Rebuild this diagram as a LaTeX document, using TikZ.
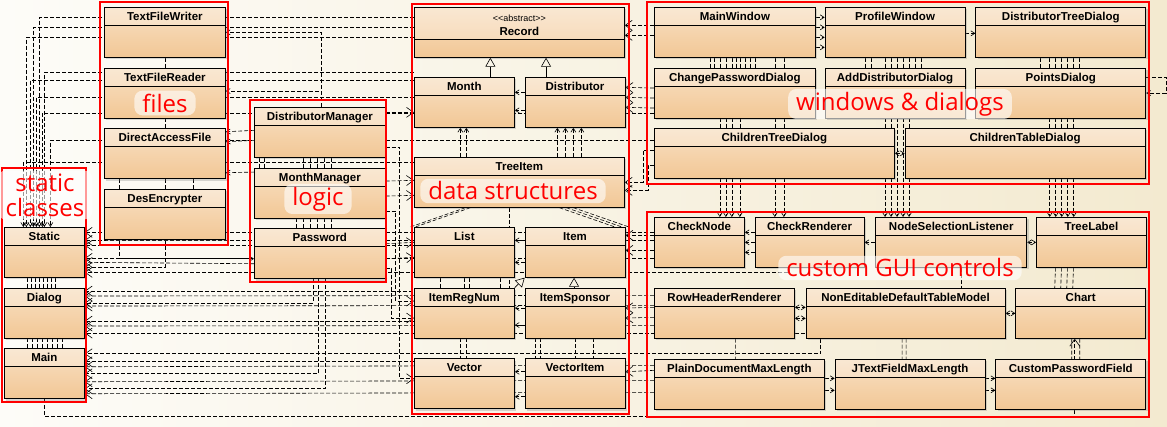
\documentclass[tikz,border=0pt]{standalone}
\usepackage{fontspec}
\setmainfont{Liberation Sans}
\newfontfamily\grpfont{Open Sans}
\usetikzlibrary{arrows.meta, positioning, shadows}
\definecolor{boxtop}{HTML}{F8E0C4}
\definecolor{boxbot}{HTML}{F2C795}
\definecolor{bgleft}{HTML}{FDFCF8}
\definecolor{bgright}{HTML}{F3EAD0}
\definecolor{grpred}{HTML}{FF0000}
\pgfdeclarelayer{back}
\pgfdeclarelayer{wires}
\pgfsetlayers{back,wires,main}
\tikzset{
  cls/.style={
    rectangle, draw=black, line width=0.7pt, top color=boxtop, bottom color=boxbot,
    minimum width=#1, minimum height=50pt, inner ysep=2pt, text height=11pt, text depth=35pt,
    font=\fontsize{11.5}{13}\selectfont\bfseries,
    path picture={
      \fill[white, opacity=0.25] (path picture bounding box.north west) rectangle ([yshift=-18pt]path picture bounding box.north east);
      \draw[line width=0.7pt] ([yshift=-18pt]path picture bounding box.north west) -- ([yshift=-18pt]path picture bounding box.north east);},
    drop shadow={shadow xshift=2pt, shadow yshift=-2pt, opacity=0.3}
  },
  grp/.style={draw=grpred, line width=2.6pt},
  lbl/.style={
    text=grpred, font=\grpfont\fontsize{24}{25}\selectfont, align=center,
    fill=white, fill opacity=0.6, text opacity=1, rounded corners=8pt, inner xsep=8pt, inner ysep=3pt
  },
  dep/.style={line width=0.6pt, dash pattern=on 4pt off 2pt, -{Straight Barb[length=7pt,width=10pt]}},
  deps/.style={line width=0.6pt, dash pattern=on 4pt off 2pt, -{Straight Barb[length=4pt,width=5pt]}},
  depb/.style={line width=0.6pt, dash pattern=on 4pt off 2pt, {Straight Barb[length=4pt,width=5pt]}-{Straight Barb[length=4pt,width=5pt]}},
  inh/.style={line width=0.6pt, -{Triangle[open,length=9pt,width=10pt]}},
  lnk/.style={line width=0.6pt, dash pattern=on 4pt off 2pt}
}
\begin{document}
\begin{tikzpicture}[x=1pt, y=-1pt, node distance=10pt]
\useasboundingbox (0,0) rectangle (1167,427);
\begin{pgfonlayer}{back}
  \shade[left color=bgleft, right color=bgright] (0,0) rectangle (1167,427);
\end{pgfonlayer}

% static classes
\node[cls=80pt, anchor=north west] (Static) at (4,227) {Static};
\node[cls=80pt, below=of Static] (Dialog) {Dialog};
\node[cls=80pt, below=of Dialog] (Main) {Main};

% files
\node[cls=121pt, anchor=north west] (TextFileWriter) at (104,7) {TextFileWriter};
\node[cls=121pt, below=of TextFileWriter] (TextFileReader) {TextFileReader};
\node[cls=121pt, below=of TextFileReader] (DirectAccessFile) {DirectAccessFile};
\node[cls=121pt, below=of DirectAccessFile] (DesEncrypter) {DesEncrypter};

% logic
\node[cls=131pt, anchor=north west] (DistributorManager) at (254,107) {DistributorManager};
\node[cls=131pt, below=of DistributorManager] (MonthManager) {MonthManager};
\node[cls=131pt, below=of MonthManager] (Password) {Password};

% data structures
\node[cls=210pt, anchor=north west, text height=26pt, text depth=20pt,
  path picture={
    \fill[white, opacity=0.25] (path picture bounding box.north west) rectangle ([yshift=-32pt]path picture bounding box.north east);
    \draw[line width=0.7pt] ([yshift=-32pt]path picture bounding box.north west) -- ([yshift=-32pt]path picture bounding box.north east);},
  label={[font=\fontsize{9}{10}\selectfont, anchor=north, yshift=-4pt]north:{<}{<}abstract{>}{>}}] (Record) at (414,7) {Record};
\node[cls=100pt, anchor=north west] (Month) at (414,77) {Month};
\node[cls=100pt, right=of Month] (Distributor) {Distributor};
\node[cls=210pt, anchor=north west] (TreeItem) at (414,157) {TreeItem};
\node[cls=100pt, anchor=north west] (List) at (414,227) {List};
\node[cls=100pt, right=of List] (Item) {Item};
\node[cls=100pt, below=of List] (ItemRegNum) {ItemRegNum};
\node[cls=100pt, below=of Item] (ItemSponsor) {ItemSponsor};
\node[cls=100pt, below=20pt of ItemRegNum] (Vector) {Vector};
\node[cls=100pt, below=20pt of ItemSponsor] (VectorItem) {VectorItem};

% windows & dialogs
\node[cls=161pt, anchor=north west] (MainWindow) at (654,7) {MainWindow};
\node[cls=140pt, right=9pt of MainWindow] (ProfileWindow) {ProfileWindow};
\node[cls=170pt, right=of ProfileWindow] (DistributorTreeDialog) {DistributorTreeDialog};
\node[cls=161pt, below=of MainWindow] (ChangePasswordDialog) {ChangePasswordDialog};
\node[cls=140pt, below=of ProfileWindow] (AddDistributorDialog) {AddDistributorDialog};
\node[cls=170pt, below=of DistributorTreeDialog] (PointsDialog) {PointsDialog};
\node[cls=240pt, anchor=north west] (ChildrenTreeDialog) at (654,128) {ChildrenTreeDialog};
\node[cls=240pt, right=of ChildrenTreeDialog] (ChildrenTableDialog) {ChildrenTableDialog};

% custom GUI controls
\node[cls=90pt, anchor=north west] (CheckNode) at (654,217) {CheckNode};
\node[cls=109pt, right=of CheckNode] (CheckRenderer) {CheckRenderer};
\node[cls=151pt, right=11pt of CheckRenderer] (NodeSelectionListener) {NodeSelectionListener};
\node[cls=110pt, right=9pt of NodeSelectionListener] (TreeLabel) {TreeLabel};
\node[cls=140pt, anchor=north west] (RowHeaderRenderer) at (654,288) {RowHeaderRenderer};
\node[cls=199pt, right=11pt of RowHeaderRenderer] (NonEditableDefaultTableModel) {NonEditableDefaultTableModel};
\node[cls=130pt, right=of NonEditableDefaultTableModel] (Chart) {Chart};
\node[cls=170pt, anchor=north west] (PlainDocumentMaxLength) at (654,359) {PlainDocumentMaxLength};
\node[cls=150pt, right=of PlainDocumentMaxLength] (JTextFieldMaxLength) {JTextFieldMaxLength};
\node[cls=150pt, right=of JTextFieldMaxLength] (CustomPasswordField) {CustomPasswordField};

\begin{pgfonlayer}{wires}
% into the static classes, from above
\draw[deps] ([yshift=15pt]Record.west) -| ([xshift=-5pt]Static.north);
\draw[deps] ([yshift=5pt]Record.west) -| ([xshift=-11pt]Static.north);
\draw[deps] ([yshift=-5pt]Record.west) -| ([xshift=-18pt]Static.north);
\draw[deps] ([yshift=30pt]Month.west) -| (Static.north);
\draw[deps] ([yshift=22pt]Month.west) -| ([xshift=-14pt]Static.north);
\draw[deps] ([yshift=5pt]Month.west) -| ([xshift=-8pt]Static.north);
\draw[deps] ([yshift=-20pt]ChangePasswordDialog.west) -| ([xshift=-2pt]Static.north);
\draw[deps] ([yshift=13pt]ChildrenTreeDialog.west) -| ([xshift=6pt]Static.north);
\draw[deps] ([yshift=20pt]TreeItem.west) -| ([xshift=-21pt]Static.north);
\draw[lnk] ([xshift=-17pt]Static.south) -- ([xshift=-17pt]Dialog.north) ([xshift=-13pt]Static.south) -- ([xshift=-13pt]Dialog.north)
  ([xshift=-9pt]Static.south) -- ([xshift=-9pt]Dialog.north) ([xshift=-5pt]Static.south) -- ([xshift=-5pt]Dialog.north)
  ([xshift=-1pt]Static.south) -- ([xshift=-1pt]Dialog.north) ([xshift=3pt]Static.south) -- ([xshift=3pt]Dialog.north)
  ([xshift=7pt]Static.south) -- ([xshift=7pt]Dialog.north) ([xshift=11pt]Static.south) -- ([xshift=11pt]Dialog.north);
\draw[lnk] ([xshift=-17pt]Dialog.south) -- ([xshift=-17pt]Main.north) ([xshift=-12pt]Dialog.south) -- ([xshift=-12pt]Main.north)
  ([xshift=-7pt]Dialog.south) -- ([xshift=-7pt]Main.north) ([xshift=-2pt]Dialog.south) -- ([xshift=-2pt]Main.north)
  ([xshift=3pt]Dialog.south) -- ([xshift=3pt]Main.north) ([xshift=8pt]Dialog.south) -- ([xshift=8pt]Main.north)
  ([xshift=13pt]Dialog.south) -- ([xshift=13pt]Main.north) ([xshift=18pt]Dialog.south) -- ([xshift=18pt]Main.north);

% into the static classes, from the right
\draw[dep] ([yshift=10pt]CheckNode.west) -- ([yshift=20pt]Static.east);
\draw[dep] ([yshift=2pt]CheckNode.west) -- ([yshift=12pt]Static.east);
\draw[dep] ([yshift=7pt]List.west) -- ([yshift=7pt]Static.east);
\draw[dep] ([yshift=-16pt]CheckNode.west) -- ([yshift=-6pt]Static.east);
\draw[dep] ([yshift=-10pt]Password.west) -- ([yshift=-10pt]Static.east);
\draw[dep] (DesEncrypter.south) |- ([yshift=-15pt]Static.east);
\draw[dep] ([xshift=-20pt]CheckRenderer.south) |- ([yshift=-20pt]Static.east);
\draw[dep] ([xshift=-10pt]TreeItem.south) |- ([yshift=22pt]Dialog.east);
\draw[dep] ([yshift=18pt]RowHeaderRenderer.west) -- ([yshift=17pt]Dialog.east);
\draw[dep] ([xshift=-7pt]Password.south) |- ([yshift=10pt]Dialog.east);
\draw[dep] ([yshift=8pt]RowHeaderRenderer.west) -- ([yshift=7pt]Dialog.east);
\draw[dep] ([yshift=-8pt]ItemRegNum.west) -- ([yshift=-8pt]Dialog.east);
\draw[dep] ([yshift=-12pt]RowHeaderRenderer.west) -- ([yshift=-13pt]Dialog.east);
\draw[dep] ([xshift=10pt]NodeSelectionListener.south) |- ([yshift=-20pt]Dialog.east);
\draw[dep] ([xshift=-85pt]NonEditableDefaultTableModel.south) |- ([yshift=20pt]Main.east);
\draw[dep] ([yshift=22pt]Vector.west) -- ([yshift=12pt]Main.east);
\draw[dep] ([yshift=19pt]PlainDocumentMaxLength.west) -- ([yshift=7pt]Main.east);
\draw[dep] ([xshift=-2pt]Password.south) |- (Main.east);
\draw[dep] ([yshift=4pt]PlainDocumentMaxLength.west) -- ([yshift=-8pt]Main.east);
\draw[dep] ([xshift=5pt]Password.south) |- ([yshift=-15pt]Main.east);
\draw[dep] ([yshift=-8pt]PlainDocumentMaxLength.west) -- ([yshift=-20pt]Main.east);
\draw[dep] (Main.south) -- ++(0,17) -| ([xshift=-6pt]Chart.south);

% files and logic
\draw[lnk] (TextFileWriter.south) -- (TextFileReader.north) (TextFileReader.south) -- (DirectAccessFile.north)
  ([xshift=-46pt]DirectAccessFile.south) -- ([xshift=-46pt]DesEncrypter.north) (DirectAccessFile.south) -- (DesEncrypter.north)
  ([xshift=28pt]DirectAccessFile.south) -- ([xshift=28pt]DesEncrypter.north);
\draw[deps] ([xshift=1pt]DistributorManager.north) |- (TextFileWriter.east);
\draw[deps] ([xshift=1pt]DistributorManager.north) |- ([yshift=2pt]TextFileReader.east);
\draw[deps] ([yshift=2pt]DistributorManager.west) -- ([yshift=22pt]DirectAccessFile.east);
\draw[deps] ([yshift=-8pt]DistributorManager.west) -- ([yshift=12pt]DirectAccessFile.east);
\draw[deps] ([yshift=21pt]MonthManager.west) -- ([yshift=-19pt]DirectAccessFile.east);
\draw[deps] ([xshift=-46pt]DesEncrypter.south) |- ([yshift=-5pt]Password.west);
\draw[lnk] ([xshift=-61pt]DistributorManager.south) -- ([xshift=-61pt]MonthManager.north) ([xshift=-56pt]DistributorManager.south) -- ([xshift=-56pt]MonthManager.north)
  ([xshift=-17pt]DistributorManager.south) -- ([xshift=-17pt]MonthManager.north) ([xshift=-10pt]DistributorManager.south) -- ([xshift=-10pt]MonthManager.north)
  ([xshift=-3pt]DistributorManager.south) -- ([xshift=-3pt]MonthManager.north) ([xshift=4pt]DistributorManager.south) -- ([xshift=4pt]MonthManager.north)
  ([xshift=11pt]DistributorManager.south) -- ([xshift=11pt]MonthManager.north);
\draw[lnk] ([xshift=-24pt]MonthManager.south) -- ([xshift=-24pt]Password.north) ([xshift=-17pt]MonthManager.south) -- ([xshift=-17pt]Password.north)
  ([xshift=-10pt]MonthManager.south) -- ([xshift=-10pt]Password.north) ([xshift=-3pt]MonthManager.south) -- ([xshift=-3pt]Password.north)
  ([xshift=4pt]MonthManager.south) -- ([xshift=4pt]Password.north) ([xshift=11pt]MonthManager.south) -- ([xshift=11pt]Password.north);

% logic to data structures
\draw[dep] ([yshift=20pt]DistributorManager.east) -- ([yshift=-10pt]Month.west);
\draw[dep] ([yshift=12pt]MonthManager.east) -- ([yshift=2pt]TreeItem.west);
\draw[dep] ([yshift=-3pt]MonthManager.east) -- ([yshift=-13pt]TreeItem.west);
\draw[dep] ([yshift=10pt]Password.east) -- ([yshift=10pt]List.west);
\draw[dep] ([yshift=-5pt]Password.east) -- ([yshift=-5pt]List.west);
\draw[dep] ([yshift=-18pt]MonthManager.east) -- ++(10,0) |- ([yshift=12pt]ItemRegNum.west);
\draw[dep] ([yshift=-15pt]Password.east) -- ++(6,0) |- ([yshift=-5pt]ItemRegNum.west);
\draw[dep] ([yshift=-15pt]DistributorManager.east) -- ++(14,0) |- ([yshift=5pt]Vector.west);

% data structures
\draw[inh] ([xshift=26pt]Month.north) -- ([xshift=26pt]Month.north |- Record.south);
\draw[inh] ([xshift=-29pt]Distributor.north) -- ([xshift=-29pt]Distributor.north |- Record.south);
\draw[deps] ([yshift=10pt]Distributor.west) -- ([yshift=10pt]Month.east);
\draw[deps] ([yshift=-8pt]Distributor.west) -- ([yshift=-8pt]Month.east);
\draw[deps] ([xshift=-59pt]TreeItem.north) -- ([xshift=-59pt]TreeItem.north |- Month.south);
\draw[deps] ([xshift=-53pt]TreeItem.north) -- ([xshift=-53pt]TreeItem.north |- Month.south);
\draw[deps] ([xshift=38pt]TreeItem.north) -- ([xshift=38pt]TreeItem.north |- Distributor.south);
\draw[deps] ([xshift=46pt]TreeItem.north) -- ([xshift=46pt]TreeItem.north |- Distributor.south);
\draw[deps] ([xshift=54pt]TreeItem.north) -- ([xshift=54pt]TreeItem.north |- Distributor.south);
\draw[deps] ([xshift=62pt]TreeItem.north) -- ([xshift=62pt]TreeItem.north |- Distributor.south);
\draw[lnk] ([xshift=-54pt]TreeItem.south) -- ([xshift=-54pt]List.north) ([xshift=-49pt]TreeItem.south) -- ([xshift=-49pt]List.north)
  ([xshift=40pt]TreeItem.south) -- ([xshift=40pt]Item.north) ([xshift=47pt]TreeItem.south) -- ([xshift=47pt]Item.north)
  ([xshift=54pt]TreeItem.south) -- ([xshift=54pt]Item.north);
\draw[deps] ([yshift=12pt]Item.west) -- ([yshift=12pt]List.east);
\draw[deps] ([yshift=-10pt]Item.west) -- ([yshift=-10pt]List.east);
\draw[inh] ([xshift=-1pt]ItemSponsor.north) -- ([xshift=-1pt]Item.south);
\draw[inh] (ItemRegNum.north east) -- (Item.south west);
\draw[deps] ([yshift=5pt]ItemSponsor.west) -- ([yshift=5pt]ItemRegNum.east);
\draw[deps] ([yshift=-12pt]ItemSponsor.west) -- ([yshift=-12pt]ItemRegNum.east);
\draw[lnk] ([xshift=-24pt]List.south) -- ([xshift=-24pt]ItemRegNum.north) (List.south) -- (ItemRegNum.north)
  ([xshift=5pt]List.south) -- ([xshift=5pt]ItemRegNum.north) ([xshift=36pt]List.south) -- ([xshift=36pt]ItemRegNum.north)
  ([xshift=-4pt]ItemRegNum.south) -- ([xshift=-4pt]Vector.north) ([xshift=2pt]ItemRegNum.south) -- ([xshift=2pt]Vector.north)
  ([xshift=-40pt]ItemSponsor.south) -- ([xshift=-40pt]VectorItem.north) ([xshift=-35pt]ItemSponsor.south) -- ([xshift=-35pt]VectorItem.north)
  (ItemSponsor.south) -- (VectorItem.north) ([xshift=18pt]ItemSponsor.south) -- ([xshift=18pt]VectorItem.north);
\draw[deps] ([yshift=12pt]VectorItem.west) -- ([yshift=12pt]Vector.east);
\draw[deps] ([yshift=-13pt]VectorItem.west) -- ([yshift=-13pt]Vector.east);

% windows & dialogs to data structures
\draw[dep] ([yshift=7pt]MainWindow.west) -- ([yshift=7pt]Record.east);
\draw[dep] ([yshift=-3pt]MainWindow.west) -- ([yshift=-3pt]Record.east);
\draw[dep] ([yshift=5pt]ChangePasswordDialog.west) -- ([yshift=15pt]Distributor.east);
\draw[dep] ([yshift=-5pt]ChangePasswordDialog.west) -- ([yshift=5pt]Distributor.east);
\draw[dep] ([yshift=-15pt]ChangePasswordDialog.west) -- ([yshift=-5pt]Distributor.east);
\draw[dep] ([yshift=3pt]ChildrenTreeDialog.west) -- ++(-11,0) |- (TreeItem.east);
\draw[dep] ([yshift=-12pt]ChildrenTreeDialog.west) -- ++(-6,0) |- ([yshift=-8pt]TreeItem.east);
\draw[dep] ([yshift=7pt]CheckNode.west) -- ([yshift=17pt]Item.east);
\draw[dep] ([yshift=-8pt]CheckNode.west) -- ([yshift=2pt]Item.east);
\draw[dep] ([yshift=6pt]RowHeaderRenderer.west) -- ([yshift=5pt]ItemSponsor.east);
\draw[dep] ([yshift=-4pt]RowHeaderRenderer.west) -- ([yshift=-5pt]ItemSponsor.east);
\draw[dep] ([yshift=14pt]PlainDocumentMaxLength.west) -- ([yshift=12pt]VectorItem.east);

% windows & dialogs
\draw[deps] ([yshift=15pt]MainWindow.east) -- ([yshift=15pt]ProfileWindow.west);
\draw[deps] ([yshift=5pt]MainWindow.east) -- ([yshift=5pt]ProfileWindow.west);
\draw[deps] ([yshift=-5pt]MainWindow.east) -- ([yshift=-5pt]ProfileWindow.west);
\draw[deps] ([yshift=-15pt]MainWindow.east) -- ([yshift=-15pt]ProfileWindow.west);
\draw[deps] ([yshift=-1pt]ProfileWindow.east) -- ([yshift=-1pt]DistributorTreeDialog.west);
\draw[deps] ([yshift=16pt]PointsDialog.east) -- ++(20,0) |- (PointsDialog.east);
\draw[depb] (ChildrenTreeDialog.east) -- (ChildrenTableDialog.west);
\draw[deps] ([xshift=-15pt]MainWindow.south) -- ([xshift=-15pt]MainWindow.south |- CheckNode.north);
\draw[deps] ([xshift=-9pt]MainWindow.south) -- ([xshift=-9pt]MainWindow.south |- CheckNode.north);
\draw[deps] ([xshift=-3pt]MainWindow.south) -- ([xshift=-3pt]MainWindow.south |- CheckNode.north);
\draw[deps] ([xshift=5pt]MainWindow.south) -- ([xshift=5pt]MainWindow.south |- CheckNode.north);
\draw[deps] ([xshift=40pt]MainWindow.south) -- ([xshift=40pt]MainWindow.south |- CheckRenderer.north);
\draw[deps] ([xshift=49pt]MainWindow.south) -- ([xshift=49pt]MainWindow.south |- CheckRenderer.north);
\draw[lnk] ([xshift=-25pt]MainWindow.south) -- ([xshift=-25pt]ChangePasswordDialog.north) ([xshift=-21pt]MainWindow.south) -- ([xshift=-21pt]ChangePasswordDialog.north)
  ([xshift=1pt]MainWindow.south) -- ([xshift=1pt]ChangePasswordDialog.north) ([xshift=10pt]MainWindow.south) -- ([xshift=10pt]ChangePasswordDialog.north)
  ([xshift=15pt]MainWindow.south) -- ([xshift=15pt]ChangePasswordDialog.north) ([xshift=20pt]MainWindow.south) -- ([xshift=20pt]ChangePasswordDialog.north);
\draw[deps] ([xshift=-10pt]ProfileWindow.south) -- ([xshift=-10pt]ProfileWindow.south |- NodeSelectionListener.north);
\draw[deps] ([xshift=-4pt]ProfileWindow.south) -- ([xshift=-4pt]ProfileWindow.south |- NodeSelectionListener.north);
\draw[deps] ([xshift=2pt]ProfileWindow.south) -- ([xshift=2pt]ProfileWindow.south |- NodeSelectionListener.north);
\draw[deps] ([xshift=8pt]ProfileWindow.south) -- ([xshift=8pt]ProfileWindow.south |- NodeSelectionListener.north);
\draw[deps] ([xshift=14pt]ProfileWindow.south) -- ([xshift=14pt]ProfileWindow.south |- NodeSelectionListener.north);
\draw[lnk] ([xshift=-30pt]ProfileWindow.south) -- ([xshift=-30pt]AddDistributorDialog.north) ([xshift=-24pt]ProfileWindow.south) -- ([xshift=-24pt]AddDistributorDialog.north)
  ([xshift=20pt]ProfileWindow.south) -- ([xshift=20pt]AddDistributorDialog.north) ([xshift=26pt]ProfileWindow.south) -- ([xshift=26pt]AddDistributorDialog.north);
\draw[deps] ([xshift=-11pt]DistributorTreeDialog.south) -- ([xshift=-11pt]DistributorTreeDialog.south |- TreeLabel.north);
\draw[deps] ([xshift=-5pt]DistributorTreeDialog.south) -- ([xshift=-5pt]DistributorTreeDialog.south |- TreeLabel.north);
\draw[deps] ([xshift=1pt]DistributorTreeDialog.south) -- ([xshift=1pt]DistributorTreeDialog.south |- TreeLabel.north);
\draw[deps] ([xshift=7pt]DistributorTreeDialog.south) -- ([xshift=7pt]DistributorTreeDialog.south |- TreeLabel.north);
\draw[deps] ([xshift=13pt]DistributorTreeDialog.south) -- ([xshift=13pt]DistributorTreeDialog.south |- TreeLabel.north);
\draw[lnk] ([xshift=-20pt]DistributorTreeDialog.south) -- ([xshift=-20pt]PointsDialog.north) ([xshift=19pt]DistributorTreeDialog.south) -- ([xshift=19pt]PointsDialog.north);

% custom GUI controls
\draw[deps] ([yshift=10pt]CheckRenderer.west) -- ([yshift=10pt]CheckNode.east);
\draw[deps] (CheckRenderer.west) -- (CheckNode.east);
\draw[deps] ([yshift=-10pt]CheckRenderer.west) -- ([yshift=-10pt]CheckNode.east);
\draw[deps] (NodeSelectionListener.west) -- (CheckRenderer.east);
\draw[depb] (NodeSelectionListener.east) -- (TreeLabel.west);
\draw[depb] ([yshift=6pt]RowHeaderRenderer.east) -- ([yshift=6pt]NonEditableDefaultTableModel.west);
\draw[depb] ([yshift=-5pt]RowHeaderRenderer.east) -- ([yshift=-5pt]NonEditableDefaultTableModel.west);
\draw[depb] (NonEditableDefaultTableModel.east) -- (Chart.west);
\draw[deps] ([yshift=6pt]PlainDocumentMaxLength.east) -- ([yshift=6pt]JTextFieldMaxLength.west);
\draw[deps] ([yshift=-6pt]PlainDocumentMaxLength.east) -- ([yshift=-6pt]JTextFieldMaxLength.west);
\draw[deps] ([yshift=6pt]JTextFieldMaxLength.east) -- ([yshift=6pt]CustomPasswordField.west);
\draw[deps] ([yshift=-6pt]JTextFieldMaxLength.east) -- ([yshift=-6pt]CustomPasswordField.west);
\draw[lnk] ([xshift=-36pt]TreeLabel.south) -- ([xshift=-26pt]Chart.north) ([xshift=-30pt]TreeLabel.south) -- ([xshift=-20pt]Chart.north)
  ([xshift=-24pt]TreeLabel.south) -- ([xshift=-14pt]Chart.north) ([xshift=-18pt]TreeLabel.south) -- ([xshift=-8pt]Chart.north)
  ([xshift=-9pt]Chart.south) -- ([xshift=1pt]CustomPasswordField.north) ([xshift=-1pt]Chart.south) -- ([xshift=9pt]CustomPasswordField.north)
  ([xshift=-3.5pt]NonEditableDefaultTableModel.south) -- ([xshift=-8pt]JTextFieldMaxLength.north)
  ([xshift=0.5pt]NonEditableDefaultTableModel.south) -- ([xshift=-4pt]JTextFieldMaxLength.north)
  ([xshift=11pt]RowHeaderRenderer.south) -- ([xshift=-4pt]PlainDocumentMaxLength.north);
\end{pgfonlayer}

% groups
\draw[grp] (2,168) rectangle (86,402);
\draw[grp] (100,2) rectangle (228,245);
\draw[grp] (250,100) rectangle (386,282);
\draw[grp] (412,4) rectangle (629,414);
\draw[grp] (647,2) rectangle (1149,184);
\draw[grp] (647,212) rectangle (1149,417);
\node[lbl] (lblStatic) at (45,195) {static\\classes};
\node[lbl] (lblFiles) at (165,103) {files};
\node[lbl] (lblLogic) at (318,199) {logic};
\node[lbl] (lblData) at (513,191) {data structures};
\node[lbl] (lblWindows) at (900,104) {windows \& dialogs};
\node[lbl] (lblGui) at (900,268) {custom GUI controls};
\end{tikzpicture}
\end{document}
